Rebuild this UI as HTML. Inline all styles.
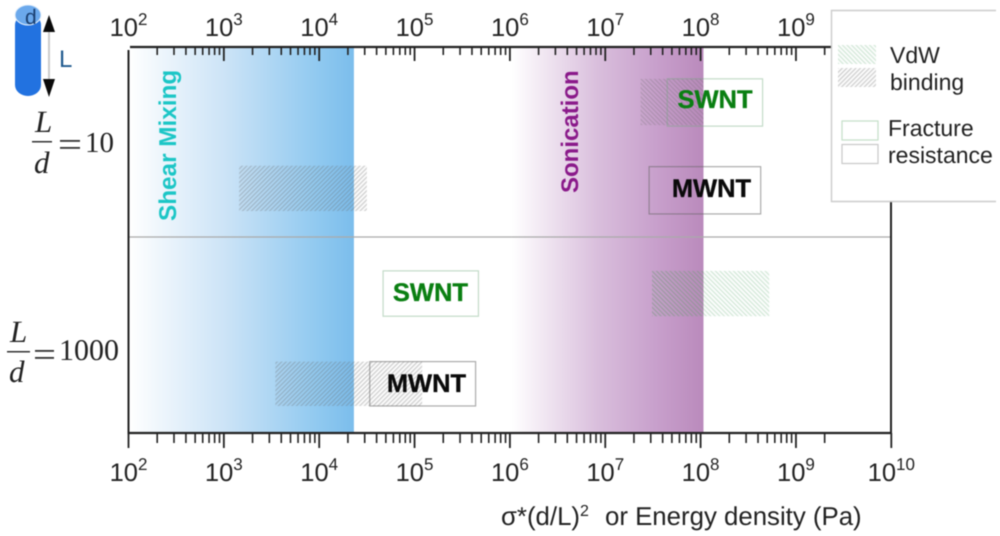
<!DOCTYPE html>
<html>
<head>
<meta charset="utf-8">
<title>Energy density chart</title>
<style>
html,body{margin:0;padding:0;background:#fff;width:1000px;height:536px;overflow:hidden}
svg{display:block;filter:blur(0.4px)}
text{font-family:"Liberation Sans",sans-serif;text-rendering:geometricPrecision}
.serif{font-family:"Liberation Serif",serif}
</style>
</head>
<body>
<svg id="chart" xmlns="http://www.w3.org/2000/svg" width="1000" height="536" viewBox="0 0 1000 536">
  <defs>
    <linearGradient id="shearGrad" x1="0" x2="1" y1="0" y2="0">
      <stop offset="0" stop-color="#ffffff"/><stop offset="0.42" stop-color="#cde4f7"/>
      <stop offset="0.84" stop-color="#90c9f0"/><stop offset="1" stop-color="#7bbdec"/>
    </linearGradient>
    <linearGradient id="sonicGrad" x1="0" x2="1" y1="0" y2="0">
      <stop offset="0" stop-color="#ffffff"/><stop offset="0.45" stop-color="#d9bedc"/>
      <stop offset="0.75" stop-color="#c8a0cc"/><stop offset="1" stop-color="#ba8abc"/>
    </linearGradient>
    <pattern id="hatchBlack" width="3.2" height="3.2" patternUnits="userSpaceOnUse" patternTransform="rotate(45)">
      <rect width="3.2" height="3.2" fill="#888" fill-opacity="0.03"/>
      <rect width="1.2" height="3.2" fill="#666" fill-opacity="0.3"/>
    </pattern>
    <pattern id="hatchGreen" width="3.2" height="3.2" patternUnits="userSpaceOnUse" patternTransform="rotate(-45)">
      <rect width="3.2" height="3.2" fill="#9ac9a4" fill-opacity="0.04"/>
      <rect width="1.2" height="3.2" fill="#8fc49c" fill-opacity="0.38"/>
    </pattern>
    <pattern id="hatchDark" width="3.2" height="3.2" patternUnits="userSpaceOnUse" patternTransform="rotate(-45)">
      <rect width="3.2" height="3.2" fill="#777" fill-opacity="0.03"/>
      <rect width="1.2" height="3.2" fill="#666" fill-opacity="0.26"/>
    </pattern>
  </defs>
  <g id="bands"></g>
  <g id="hatches"></g>
  <g id="boxes"></g>

  <line x1="128" y1="237" x2="891" y2="237" stroke="#aaa" stroke-width="1.2"/>
  <g id="axes" stroke="#222"></g>
  <g id="tickLabels"></g>

  <text transform="translate(176,221) rotate(-90)" font-size="24.300" font-weight="bold" fill="#1cc6c6">Shear Mixing</text>
  <text transform="translate(578,193) rotate(-90)" font-size="24" font-weight="bold" fill="#8a1a8a">Sonication</text>

  <g>
    <path d="M996 10.5H831.500V201.500H996" fill="#fff" stroke="#ccc" stroke-width="1.400"/>
    <rect x="838" y="45" width="38" height="19" fill="url(#hatchGreen)"/>
    <rect x="838" y="68" width="38" height="19" fill="url(#hatchBlack)"/>
    <text x="890" y="63" font-size="23" fill="#222">VdW</text>
    <text x="890" y="90" font-size="23" fill="#222">binding</text>
    <rect x="842" y="121" width="36" height="19" fill="#fff" stroke="#c5dfc9" stroke-width="1.200"/>
    <rect x="842" y="144.500" width="36" height="19" fill="#fff" stroke="#c8c8c8" stroke-width="1.200"/>
    <text x="888" y="136" font-size="23" fill="#222">Fracture</text>
    <text x="888" y="163" font-size="23" fill="#222">resistance</text>
  </g>

  <g>
    <rect x="15" y="14" width="26" height="82" rx="13" ry="11" fill="#2272e0"/>
    <ellipse cx="28" cy="15" rx="13" ry="10" fill="#6ba9ec" stroke="#e6f0fb" stroke-width="1"/>
    <text x="25" y="24" font-size="21" fill="#1a3f70">d</text>
    <line x1="49" y1="28" x2="49" y2="84" stroke="#ccc" stroke-width="2"/>
    <polygon points="49,15 43,32 55,32" fill="#0a0a0a"/>
    <polygon points="49,97 43,79 55,79" fill="#0a0a0a"/>
    <text x="59" y="67" font-size="24" fill="#1f5a8e">L</text>
  </g>

  <g fill="#222">
    <text class="serif" x="35" y="132" font-size="31" font-style="italic">L</text>
    <rect x="32" y="141" width="20" height="1.500" fill="#333"/>
    <text class="serif" x="34" y="173" font-size="31" font-style="italic">d</text>
    <rect x="60" y="140" width="20" height="1.800" fill="#333"/>
    <rect x="60" y="147" width="20" height="1.800" fill="#333"/>
    <text class="serif" x="85" y="152" font-size="29">10</text>
  </g>
  <g fill="#222">
    <text class="serif" x="10" y="342" font-size="31" font-style="italic">L</text>
    <rect x="7" y="351" width="23" height="1.500" fill="#333"/>
    <text class="serif" x="9" y="382" font-size="31" font-style="italic">d</text>
    <rect x="35" y="350" width="19" height="1.800" fill="#333"/>
    <rect x="35" y="357" width="19" height="1.800" fill="#333"/>
    <text class="serif" x="59" y="360" font-size="30">1000</text>
  </g>

  <g fill="#222">
    <text x="501" y="525" font-size="25.800">σ*(d/L)</text>
    <text x="580" y="516" font-size="16">2</text>
    <text x="605" y="525" font-size="25.800">or Energy density (Pa)</text>
  </g>
</svg>

<script>
// ---- chart data (energy in log10 Pa; rows measured from top of the plot, 0..2) ----
const tickExponents = [2, 3, 4, 5, 6, 7, 8, 9, 10];
const topTickExponents = [2, 3, 4, 5, 6, 7, 8, 9];
const minorMultipliers = [2, 3, 4, 5, 6, 7, 8, 9];

const bandNames = ['shear-mixing-band', 'sonication-band'];
const bandStarts = [2.0, 6.02];
const bandEnds = [4.364, 8.03];

const hatchNames = ['vdw-mwnt-top', 'vdw-swnt-top', 'vdw-swnt-bottom', 'vdw-mwnt-bottom'];
const hatchStarts = [3.16, 7.37, 7.49, 3.54];
const hatchEnds = [4.50, 8.03, 8.72, 5.08];
const hatchTops = [0.615, 0.165, 1.16, 1.63];
const hatchBottoms = [0.85, 0.405, 1.395, 1.86];

const boxNames = ['swnt-top', 'mwnt-top', 'swnt-bottom', 'mwnt-bottom'];
const boxLabels = ['SWNT', 'MWNT', 'SWNT', 'MWNT'];
const boxStarts = [7.65, 7.46, 4.67, 4.53];
const boxEnds = [8.65, 8.63, 5.67, 5.64];
const boxTops = [0.165, 0.62, 1.16, 1.63];
const boxBottoms = [0.41, 0.865, 1.395, 1.86];
const labelCenters = [8.151, 8.114, 5.167, 5.125];
const labelRows = [0.316, 0.777, 1.316, 1.788];

// ---- axis functions ----
const xScale = v => 128.5 + (v - 2) * 95.35;
const yScale = r => 47 + r * 193;

const NS = 'http://www.w3.org/2000/svg';
function mk(parent, tag, attrs) {
  const el = document.createElementNS(NS, tag);
  for (const k in attrs) el.setAttribute(k, attrs[k]);
  parent.appendChild(el);
  return el;
}

// bands
const bandsG = document.getElementById('bands');
bandNames.forEach((name, i) => {
  const r = mk(bandsG, 'rect', {
    x: xScale(bandStarts[i]), y: 47,
    width: xScale(bandEnds[i]) - xScale(bandStarts[i]), height: 386,
    fill: i === 0 ? 'url(#shearGrad)' : 'url(#sonicGrad)'
  });
  
  
});

// hatched regions
const hatchG = document.getElementById('hatches');
hatchNames.forEach((name, i) => {
  const fill = name === 'vdw-swnt-top' ? 'url(#hatchDark)'
    : name === 'vdw-swnt-bottom' ? 'url(#hatchGreen)' : 'url(#hatchBlack)';
  const r = mk(hatchG, 'rect', {
    x: xScale(hatchStarts[i]), y: yScale(hatchTops[i]),
    width: xScale(hatchEnds[i]) - xScale(hatchStarts[i]),
    height: yScale(hatchBottoms[i]) - yScale(hatchTops[i]), fill: fill
  });
  
  
});
// darker overlap of the bottom green hatch with the sonication band
const overlap = mk(hatchG, 'rect', {
  x: xScale(hatchStarts[2]), y: yScale(hatchTops[2]),
  width: xScale(bandEnds[1]) - xScale(hatchStarts[2]),
  height: yScale(hatchBottoms[2]) - yScale(hatchTops[2]), fill: 'url(#hatchDark)'
});



// fracture resistance boxes
const boxG = document.getElementById('boxes');
boxNames.forEach((name, i) => {
  const green = boxLabels[i] === 'SWNT';
  const x0 = xScale(boxStarts[i]), x1 = xScale(boxEnds[i]);
  const y0 = yScale(boxTops[i]), y1 = yScale(boxBottoms[i]);
  const r = mk(boxG, 'rect', {
    x: x0, y: y0, width: x1 - x0, height: y1 - y0, fill: 'none',
    stroke: green ? '#6fa97c' : '#666', 'stroke-opacity': green ? 0.42 : 0.55, 'stroke-width': 1.2
  });
  
  
  const t = mk(boxG, 'text', {
    x: xScale(labelCenters[i]), y: yScale(labelRows[i]), 'text-anchor': 'middle',
    'font-size': 25.5, 'font-weight': 'bold', fill: green ? '#0a7f12' : '#0a0a0a',
    stroke: green ? '#0a7f12' : '#0a0a0a', 'stroke-width': 0.35
  });
  t.textContent = boxLabels[i];
  
  
});

// axes
const axG = document.getElementById('axes');
function axisLine(name, x1, y1, x2, y2, w) {
  const l = mk(axG, 'line', { x1: x1, y1: y1, x2: x2, y2: y2, 'stroke-width': w });
  
  
}
axisLine('left-axis', 128.5, 50, 128.5, 434, 2);
axisLine('right-axis', 891, 202, 891, 434, 2);
axisLine('top-axis', 130, 47, 832, 47, 2.2);
axisLine('bottom-axis', 127.5, 433, 892, 433, 2.2);

function ticks(name, exps, y, minorLen, majorLen, allowLast, skipFirstMajor) {
  exps.forEach((e, i) => {
    if (!(skipFirstMajor && i === 0)) axisLine(name + '-major-' + e, xScale(e), y, xScale(e), y + majorLen, 1.8);
    if (i < exps.length - 1 || allowLast) {
      minorMultipliers.forEach(m => {
        const v = e + Math.log10(m);
        if (xScale(v) < 831) axisLine(name + '-minor', xScale(v), y, xScale(v), y + minorLen, 1.6);
      });
    }
  });
}
ticks('bottom-tick', tickExponents, 433, 10, 15, false, false);
ticks('top-tick', topTickExponents, 47, 8, 14, true, true);

// tick labels
const labG = document.getElementById('tickLabels');
function tickLabel(name, e, y) {
  const t = mk(labG, 'text', {
    x: xScale(e), y: y, 'text-anchor': 'middle', 'font-size': 25.5, fill: '#222'
  });
  
  
  t.appendChild(document.createTextNode('10'));
  const s = mk(t, 'tspan', { dy: -11, 'font-size': 17 });
  s.textContent = String(e);
}
tickExponents.forEach(e => tickLabel('bottom-tick-label', e, 481));
topTickExponents.forEach(e => tickLabel('top-tick-label', e, 36));
</script>
</body>
</html>
